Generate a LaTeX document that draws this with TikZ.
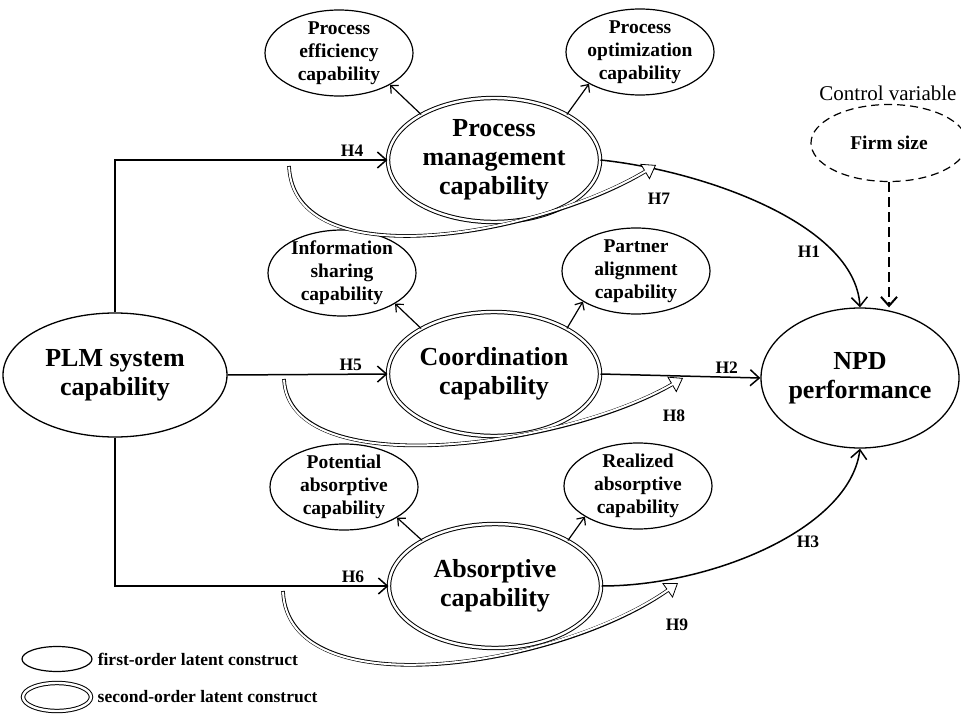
\documentclass[tikz,border=0pt]{standalone}
\usepackage{fontspec}
\setmainfont{Liberation Serif}
\usetikzlibrary{arrows.meta,shapes.geometric,positioning}

\begin{document}
\begin{tikzpicture}[x=1pt, y=-1pt,
    first/.style={ellipse, draw, line width=1.2pt, minimum width=148pt, minimum height=86pt,
                  inner sep=-4pt, align=center, font=\bfseries\fontsize{19.5}{23}\selectfont},
    second/.style={ellipse, draw, double, double distance=2.4pt, line width=1pt,
                   minimum width=212pt, minimum height=124pt, inner sep=0pt, align=center,
                   font=\bfseries\fontsize{26}{29}\selectfont},
    latent/.style={ellipse, draw, line width=1.3pt, inner sep=-2pt, align=center,
                   font=\bfseries\fontsize{26}{29}\selectfont},
    hyp/.style={font=\bfseries\fontsize{17.5}{17.5}\selectfont, inner sep=3pt},
    link/.style={line width=1.5pt, -{Straight Barb[length=9pt,width=16pt]}},
    sub/.style={line width=1.2pt, -{Straight Barb[length=6pt,width=11pt]}},
    med/.style={line width=3.6pt,
                -{Triangle[open,line width=0.8pt,length=13pt,width=18pt,fill=white]},
                postaction={draw=white, line width=2pt, -, shorten <=0.8pt, shorten >=9pt}},
    ctl/.style={line width=2pt, dash pattern=on 10pt off 5pt,
                -{Straight Barb[length=9pt,width=16pt]}}]
    \useasboundingbox (0,0) rectangle (961,714);

    % constructs
    \node[latent, minimum width=224pt, minimum height=124pt] (plm) at (115,375) {PLM system\\capability};
    \node[latent, minimum width=198pt, minimum height=140pt] (npd) at (860,378) {NPD\\performance};
    \node[second] (pmc) at (494,160) {Process\\management\\capability};
    \node[second] (coo) at (494,374) {Coordination\\capability};
    \node[second] (abs) at (495,586) {Absorptive\\capability};
    \node[first] (pe)   at (339,53)  {Process\\efficiency\\capability};
    \node[first] (po)   at (640,52)  {Process\\optimization\\capability};
    \node[first] (info) at (342,273) {Information\\sharing\\capability};
    \node[first] (pa)   at (636,271) {Partner\\alignment\\capability};
    \node[first] (pot)  at (344,487) {Potential\\absorptive\\capability};
    \node[first] (rea)  at (638,486) {Realized\\absorptive\\capability};
    \node[first, dashed, dash pattern=on 8pt off 5pt, minimum width=156pt, minimum height=77pt] (firm) at (889,143) {Firm size};
    \node[font=\fontsize{21}{21}\selectfont, inner sep=0pt] (ctrl) at (888,93) {Control variable};

    % hypotheses
    \draw[link] (plm.north) |- (pmc.west) node[hyp, pos=0.935, above] (h4) {H4};
    \draw[link] (plm.east) -- (coo.west) node[hyp, pos=0.77, above] (h5) {H5};
    \draw[link] (plm.south) |- (abs.west) node[hyp, pos=0.935, above] (h6) {H6};
    \draw[link] (coo.east) -- (npd.west) node[hyp, pos=0.79, above] (h2) {H2};
    \draw[link] (pmc.east) .. controls +(98,10) and +(-5,-85) .. (npd.north);
    \draw[link] (abs.east) .. controls +(110,0) and +(-10,80) .. (npd.south);
    \draw[ctl] (firm.south) -- (firm.south |- npd.north);
    \node[hyp] (h1) at (809,252) {H1};
    \node[hyp] (h3) at (808,542) {H3};

    \path[sub] (pmc.148) edge (pe.-32)   (pmc.32) edge (po.-148)
               (coo.148) edge (info.-30) (coo.32) edge (pa.-150)
               (abs.148) edge (pot.-30)  (abs.32) edge (rea.-150);

    % mediation
    \coordinate (h7s) at (289,166);
    \coordinate (h7e) at (656,165);
    \coordinate (h8s) at (284,379);
    \coordinate (h8e) at (683,378);
    \coordinate (h9s) at (283,591);
    \coordinate (h9e) at (678,583);
    \draw[med] (h7s) .. controls +(5,112) and +(-120,72) .. (h7e);
    \draw[med] (h8s) .. controls +(5,105) and +(-120,70) .. (h8e);
    \draw[med] (h9s) .. controls +(5,118) and +(-120,85) .. (h9e);
    \node[hyp] (h7) at (659,199) {H7};
    \node[hyp] (h8) at (674,416) {H8};
    \node[hyp] (h9) at (677,625) {H9};

    % legend
    \node[first, minimum width=70pt, minimum height=25pt, inner sep=0pt] (lg1) at (57,659) {};
    \node[second, minimum width=68pt, minimum height=28pt] (lg2) at (57,697) {};
    \node[right=5pt of lg1, font=\bfseries\fontsize{17.5}{17.5}\selectfont, inner sep=0pt] (lt1) {first-order latent construct};
    \node[right=6pt of lg2, font=\bfseries\fontsize{17.5}{17.5}\selectfont, inner sep=0pt] (lt2) {second-order latent construct};
\end{tikzpicture}
\end{document}
